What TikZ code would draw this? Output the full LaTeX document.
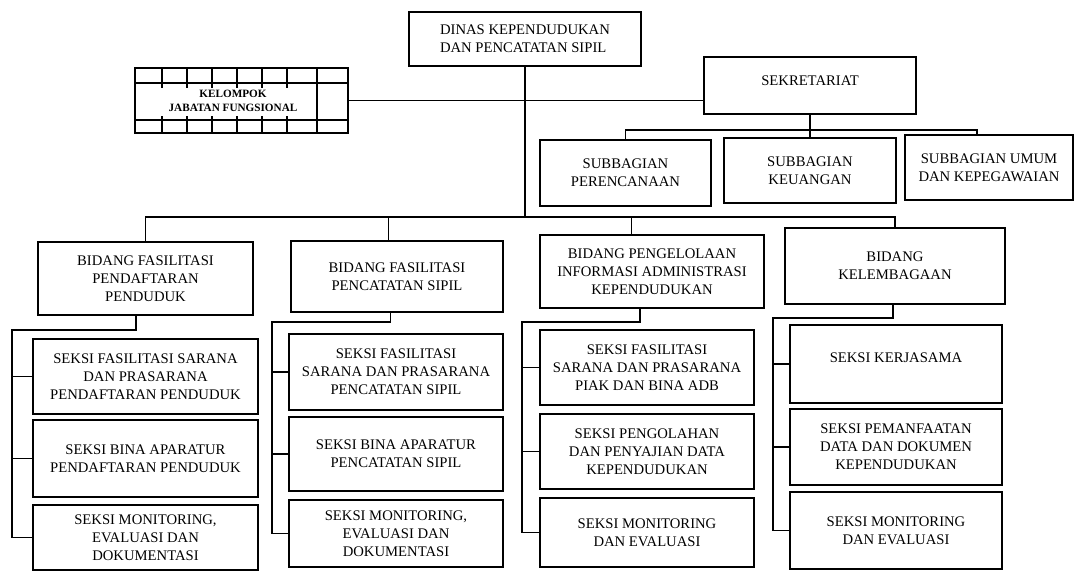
\documentclass[tikz,border=0pt]{standalone}
\usepackage{fontspec}
\setmainfont{Liberation Serif}
\usetikzlibrary{calc}
\newcommand\orgbox[7]{\node[#1, minimum width={(#5-#3)*0.75pt}, minimum height={(#6-#4)*0.75pt}] (#2) at ({(#3+#5)/2},{(#4+#6)/2}) {#7};}
\begin{document}
\begin{tikzpicture}[x=0.75pt,y=-0.75pt,
  box/.style={draw, line width=1.35pt, align=center, inner sep=1pt,
    font=\fontsize{11}{13.5}\selectfont},
  topbox/.style={box, align=left},
  plainbox/.style={draw, line width=1.35pt, inner sep=0pt},
  smalltext/.style={align=center, inner sep=0pt, font=\bfseries\fontsize{8.4}{10.5}\selectfont},
  conn/.style={line width=1.1pt},
  thinline/.style={line width=1pt}]
\useasboundingbox (0,0) rectangle (1075,572);

% top level
\orgbox{topbox}{dinas}{409}{12}{641}{66}{DINAS KEPENDUDUKAN\\DAN PENCATATAN SIPIL}
\orgbox{plainbox}{kjf}{135}{68}{348}{133}{}
\node[smalltext] (kjflabel) at (233,101) {KELOMPOK\\JABATAN FUNGSIONAL};
\draw[thinline] (135,83) -- (348,83);
\draw[thinline] (135,120) -- (348,120);
\draw[thinline] (317,68) -- (317,133);
\foreach \tx in {162,187,212,237,262,287}{
  \draw[thinline] (\tx,68) -- (\tx,88);
  \draw[thinline] (\tx,116) -- (\tx,133);
}
\orgbox{box,text depth=8pt}{sek}{704}{57}{916}{114}{SEKRETARIAT}

% subbagian
\orgbox{box}{per}{540}{140}{711}{206}{SUBBAGIAN\\PERENCANAAN}
\orgbox{box}{keu}{724}{138}{896}{203}{SUBBAGIAN\\KEUANGAN}
\orgbox{box}{umu}{905}{135}{1073}{200}{SUBBAGIAN UMUM\\DAN KEPEGAWAIAN}

% bidang
\orgbox{box}{b1}{38}{242}{253}{315}{BIDANG FASILITASI\\PENDAFTARAN\\PENDUDUK}
\orgbox{box}{b2}{291}{241}{503}{312}{BIDANG FASILITASI\\PENCATATAN SIPIL}
\orgbox{box}{b3}{540}{235}{764}{308}{BIDANG PENGELOLAAN\\INFORMASI ADMINISTRASI\\KEPENDUDUKAN}
\orgbox{box}{b4}{785}{228}{1005}{304}{BIDANG\\KELEMBAGAAN}

% seksi column 1
\orgbox{box}{s11}{33}{339}{258}{414}{SEKSI FASILITASI SARANA\\DAN PRASARANA\\PENDAFTARAN PENDUDUK}
\orgbox{box}{s12}{33}{420}{258}{497}{SEKSI BINA APARATUR\\PENDAFTARAN PENDUDUK}
\orgbox{box}{s13}{33}{505}{258}{570}{SEKSI MONITORING,\\EVALUASI DAN\\DOKUMENTASI}
% seksi column 2
\orgbox{box}{s21}{289}{334}{503}{410}{SEKSI FASILITASI\\SARANA DAN PRASARANA\\PENCATATAN SIPIL}
\orgbox{box}{s22}{289}{417}{503}{491}{SEKSI BINA APARATUR\\PENCATATAN SIPIL}
\orgbox{box}{s23}{289}{500}{503}{567}{SEKSI MONITORING,\\EVALUASI DAN\\DOKUMENTASI}
% seksi column 3
\orgbox{box}{s31}{540}{330}{754}{405}{SEKSI FASILITASI\\SARANA DAN PRASARANA\\PIAK DAN BINA ADB}
\orgbox{box}{s32}{540}{414}{754}{489}{SEKSI PENGOLAHAN\\DAN PENYAJIAN DATA\\KEPENDUDUKAN}
\orgbox{box}{s33}{540}{498}{754}{567}{SEKSI MONITORING\\DAN EVALUASI}
% seksi column 4
\orgbox{box,text depth=10pt}{s41}{790}{325}{1002}{403}{SEKSI KERJASAMA}
\orgbox{box}{s42}{790}{409}{1002}{485}{SEKSI PEMANFAATAN\\DATA DAN DOKUMEN\\KEPENDUDUKAN}
\orgbox{box}{s43}{790}{492}{1002}{569}{SEKSI MONITORING\\DAN EVALUASI}

% connectors: top
\coordinate (busY) at (525,217);
\draw[conn] (kjf.east) -- (kjf.east -| sek.west);
\draw[conn] (dinas.south) -- (dinas.south |- busY);
\draw[conn] (sek.south) -- (keu.north);
\coordinate (subY) at (810,130);
\coordinate (umudrop) at ($(umu.north west)!0.43!(umu.north east)$);
\draw[conn] (per.north) |- (subY) -| (umudrop);

% bidang bus
\draw[conn] (b1.north) |- (busY) -| (b4.north);
\coordinate (b2top) at ($(b2.north west)!0.46!(b2.north east)$);
\coordinate (b3top) at ($(b3.north west)!0.41!(b3.north east)$);
\draw[conn] (b2top) -- (b2top |- busY);
\draw[conn] (b3top) -- (b3top |- busY);

% column 1
\coordinate (b1bot) at ($(b1.south west)!0.456!(b1.south east)$);
\coordinate (c1) at (12,330);
\draw[conn] (b1bot) |- (c1) |- (s11.west);
\draw[conn] (c1) |- (s12.west);
\draw[conn] (c1) |- (s13.west);
% column 2
\coordinate (b2bot) at ($(b2.south west)!0.47!(b2.south east)$);
\coordinate (c2) at (272,322);
\draw[conn] (b2bot) |- (c2) |- (s21.west);
\draw[conn] (c2) |- (s22.west);
\draw[conn] (c2) |- (s23.west);
% column 3
\coordinate (b3bot) at ($(b3.south west)!0.446!(b3.south east)$);
\coordinate (c3) at (522,322);
\draw[conn] (b3bot) |- (c3) |- (s31.west);
\draw[conn] (c3) |- (s32.west);
\draw[conn] (c3) |- (s33.west);
% column 4
\coordinate (b4bot) at ($(b4.south west)!0.49!(b4.south east)$);
\coordinate (c4) at (773,318);
\draw[conn] (b4bot) |- (c4) |- (s41.west);
\draw[conn] (c4) |- (s42.west);
\draw[conn] (c4) |- (s43.west);
\end{tikzpicture}
\end{document}
